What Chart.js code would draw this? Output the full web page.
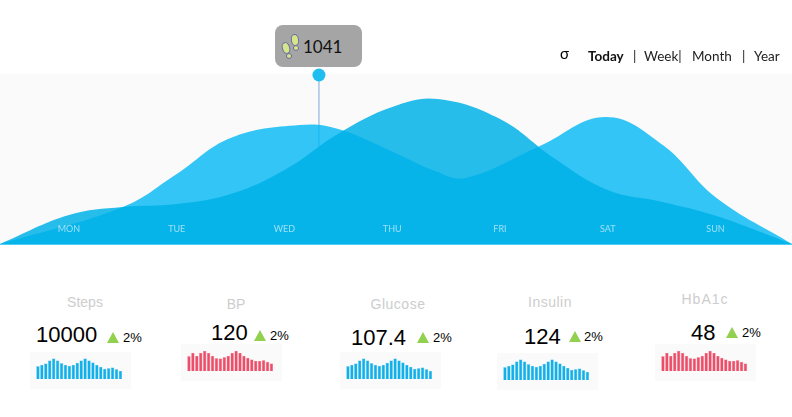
<!DOCTYPE html>
<html>
<head>
<meta charset="utf-8">
<script src="https://cdn.jsdelivr.net/npm/chart.js@4/dist/chart.umd.min.js"></script>
<style>
html, body { margin: 0; padding: 0; background: #fff; overflow: hidden; }
#page { position: relative; width: 792px; height: 417px; font-family: "Liberation Sans", Arial, sans-serif; }
#page div, #page span, #page canvas { position: absolute; white-space: nowrap; }
#panel { left: 0; top: 74px; width: 792px; height: 170px; background: #fafafa; border-bottom: 1.5px solid #4ccdf5; }
#bubble { left: 275px; top: 25px; width: 87px; height: 42px; background: #a5a5a5; border-radius: 8px; }
#bubbleText { left: 28px; top: 11px; font: 17px Lato, sans-serif; color: #111; }
#bubble svg { position: absolute; left: 4px; top: 8px; }
.range { top: 48px; font: 13.5px Lato, sans-serif; color: #222; }
.label { color: #cdcdcd; font-size: 14px; transform: translateX(-50%); }
.value { color: #000; font-size: 22px; }
.pct { color: #000; font-size: 13px; }
.up { width: 0; height: 0; border-left: 6px solid transparent; border-right: 6px solid transparent; border-bottom: 11px solid #92d050; }
.box { background: #fafafa; width: 101px; height: 37px; }
</style>
</head>
<body>
<div id="page">
  <div id="panel"></div>
  <canvas id="main" width="792" height="184" style="left:0;top:60px"></canvas>
  <div id="bubble">
    <svg width="24" height="30" viewBox="0 0 24 30">
      <g fill="#d5e58a" stroke="#6a6aa0" stroke-width="1">
        <ellipse cx="16" cy="7" rx="3.6" ry="5.5" transform="rotate(-8 16 7)"/>
        <ellipse cx="17" cy="15" rx="2.6" ry="2.4"/>
        <ellipse cx="7" cy="15" rx="3.6" ry="5.5" transform="rotate(-18 7 15)"/>
        <ellipse cx="10" cy="23" rx="2.6" ry="2.4"/>
      </g>
    </svg>
    <div id="bubbleText">1041</div>
  </div>
  <span class="range" style="left:560px;top:44px;font-size:15px;color:#000">σ</span>
  <span class="range" style="left:588px;font-weight:bold;color:#111">Today</span>
  <span class="range" style="left:633px">|</span>
  <span class="range" style="left:644px">Week|</span>
  <span class="range" style="left:692px">Month</span>
  <span class="range" style="left:742px">|</span>
  <span class="range" style="left:754px">Year</span>
</div>
<script>
var dayLabels = ["MON", "TUE", "WED", "THU", "FRI", "SAT", "SUN"];
var dayTicks = [1, 2, 3, 4, 5, 6, 7];
var lightDays = [0.36, 1.5, 2, 2.5, 3.14, 3.5, 4.01, 4.4, 4.68, 5.37, 5.98, 6.51, 7.01, 7.71];
var lightSeries = [0, 37, 70, 106, 119, 115, 92, 73, 66, 98, 127, 99, 46, 0];
var darkDays = [0.36, 1, 1.5, 2, 2.5, 3, 3.51, 4, 4.42, 5, 5.5, 6, 6.51, 7.01, 7.71];
var darkSeries = [0, 29, 37, 40, 50, 74, 111, 137, 145, 125, 86, 54, 42, 28, 0];
var markerDay = 3.32;
var markerLine = [97, 169];

var cardNames = ["Steps", "BP", "Glucose", "Insulin", "HbA1c"];
var cardValues = ["10000", "120", "107.4", "124", "48"];
var cardChange = ["2%", "2%", "2%", "2%", "2%"];
var barSlots = ["a", "b", "c", "d", "e", "f", "g", "h", "i", "j", "k", "l", "m", "n", "o", "p", "q", "r", "s", "t", "u", "v"];
var stepsBars = [12.7, 14, 15.3, 18.3, 20.3, 18.3, 15.7, 14, 13, 14, 16, 18.3, 20.3, 18.3, 16.3, 14, 12, 10, 10.7, 11.3, 9.7, 8];
var bpBars = [14.7, 18, 15, 18, 20, 18, 15, 12.7, 12.3, 13.7, 15, 18, 20, 18, 15, 13, 11.3, 10, 10, 10.7, 9, 7.3];
var glucoseBars = [12.7, 14, 15.3, 18.3, 20.3, 18.3, 15.7, 14, 13, 14, 16, 18.3, 20.3, 18.3, 16.3, 14, 12, 10, 10.7, 11.3, 9.7, 8];
var insulinBars = [12.7, 14, 15.3, 18.3, 20.3, 18.3, 15.7, 14, 13, 14, 16, 18.3, 20.3, 18.3, 16.3, 14, 12, 10, 10.7, 11.3, 9.7, 8];
var hba1cBars = [14.7, 18, 15, 18, 20, 18, 15, 12.7, 12.3, 13.7, 15, 18, 20, 18, 15, 13, 11.3, 10, 10, 10.7, 9, 7.3];
var cardBars = [stepsBars, bpBars, glucoseBars, insulinBars, hba1cBars];
var blue = "#12afe8", red = "#ec4d68";
var blueEdge = "rgba(18,175,232,0.4)", redEdge = "rgba(236,77,104,0.4)";
var cardColors = [blue, red, blue, blue, red];
var cardEdges = [blueEdge, redEdge, blueEdge, blueEdge, redEdge];

// layout of the cards, one row per card
var cardLayout = [
    { labelX: 85, labelY: 294, spacing: 0, valueX: 36, valueY: 322, upX: 107, upY: 332, pctX: 123, pctY: 330, boxX: 30, boxY: 352 },
    { labelX: 236, labelY: 296, spacing: 0, valueX: 211, valueY: 320, upX: 254, upY: 330, pctX: 270, pctY: 328, boxX: 181, boxY: 344 },
    { labelX: 398, labelY: 296, spacing: 0.5, valueX: 351, valueY: 325, upX: 417, upY: 332, pctX: 433, pctY: 330, boxX: 340, boxY: 352 },
    { labelX: 550, labelY: 294, spacing: 0.5, valueX: 524, valueY: 324, upX: 569, upY: 331, pctX: 584, pctY: 329, boxX: 497, boxY: 353 },
    { labelX: 705, labelY: 291, spacing: 1, valueX: 691, valueY: 320, upX: 726, upY: 327, pctX: 742, pctY: 325, boxX: 655, boxY: 344 }
];

function toPoints(days, values) {
    return values.map(function (v, i) { return { x: days[i], y: v }; });
}

// day names sit inside the filled area, on top of it
var dayLabelPlugin = {
    id: "dayLabels",
    afterDatasetsDraw: function (chart) {
        var ctx = chart.ctx;
        ctx.save();
        ctx.fillStyle = "rgba(255,255,255,0.6)";
        ctx.font = "9px Lato";
        ctx.textAlign = "center";
        ctx.textBaseline = "middle";
        dayLabels.forEach(function (name, i) {
            ctx.fillText(name, chart.scales.x.getPixelForValue(dayTicks[i]), chart.scales.y.getPixelForValue(15));
        });
        ctx.restore();
    }
};

new Chart(document.getElementById("main"), {
    type: "line",
    plugins: [dayLabelPlugin],
    data: {
        datasets: [
            { data: toPoints(darkDays, darkSeries), fill: "origin", backgroundColor: "rgba(0,177,231,0.85)", borderWidth: 0, pointRadius: 0, tension: 0.4 },
            { data: toPoints(lightDays, lightSeries), fill: "origin", backgroundColor: "rgba(0,184,244,0.8)", borderWidth: 0, pointRadius: 0, tension: 0.4 },
            {
                data: markerLine.map(function (v) { return { x: markerDay, y: v }; }),
                borderColor: "#7fa8dc", borderWidth: 1, fill: false, clip: false,
                pointRadius: [0, 6.5], pointBackgroundColor: "#1fbdf0", pointBorderWidth: 0
            }
        ]
    },
    options: {
        responsive: false,
        animation: false,
        layout: { padding: 0, autoPadding: false },
        plugins: { legend: { display: false }, tooltip: { enabled: false } },
        scales: {
            x: { type: "linear", display: false, min: 0.36, max: 7.71 },
            y: { display: false, min: 0, max: 184 }
        }
    }
});

var page = document.getElementById("page");

function addText(cls, text, x, y) {
    var el = document.createElement("span");
    el.className = cls;
    el.textContent = text;
    el.style.left = x + "px";
    el.style.top = y + "px";
    page.appendChild(el);
    return el;
}

cardNames.forEach(function (name, i) {
    var pos = cardLayout[i];
    addText("label", name, pos.labelX, pos.labelY).style.letterSpacing = pos.spacing + "px";
    addText("value", cardValues[i], pos.valueX, pos.valueY);
    var up = document.createElement("div");
    up.className = "up";
    up.style.left = pos.upX + "px";
    up.style.top = pos.upY + "px";
    page.appendChild(up);
    addText("pct", cardChange[i], pos.pctX, pos.pctY);

    var box = document.createElement("div");
    box.className = "box";
    box.style.left = pos.boxX + "px";
    box.style.top = pos.boxY + "px";
    var canvas = document.createElement("canvas");
    canvas.width = 101;
    canvas.height = 37;
    box.appendChild(canvas);
    page.appendChild(box);

    new Chart(canvas, {
        type: "bar",
        data: {
            labels: barSlots,
            datasets: [{ data: cardBars[i], backgroundColor: cardColors[i], borderColor: cardEdges[i], borderWidth: 0.7, barThickness: 3 }]
        },
        options: {
            responsive: false,
            animation: false,
            layout: { padding: { left: 6, right: 8.6, top: 0, bottom: 10 } },
            plugins: { legend: { display: false }, tooltip: { enabled: false } },
            scales: {
                x: { display: false },
                y: { display: false, min: 0, max: 27 }
            }
        }
    });
});
</script>
</body>
</html>
